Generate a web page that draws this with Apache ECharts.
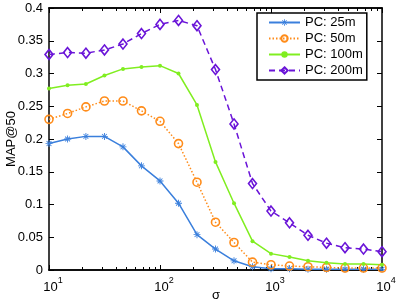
<!DOCTYPE html>
<html><head><meta charset="utf-8">
<script src="https://cdn.jsdelivr.net/npm/echarts@6/dist/echarts.min.js"></script>
<style>html,body{margin:0;padding:0;background:#fff}#c{width:398px;height:302px}</style>
</head><body><div id="c"></div>
<script>
var sigma = [10, 14.7, 21.5, 31.6, 46.4, 68.1, 100, 146.8, 215.4, 316.2, 464.2, 681.3, 1000, 1468, 2154, 3162, 4642, 6813, 10000];
var pc25  = [0.193, 0.200, 0.204, 0.204, 0.188, 0.159, 0.136, 0.102, 0.054, 0.032, 0.014, 0.005, 0.002, 0.002, 0.001, 0.001, 0.001, 0.001, 0.001];
var pc50  = [0.230, 0.239, 0.249, 0.258, 0.258, 0.243, 0.227, 0.193, 0.134, 0.073, 0.042, 0.012, 0.008, 0.006, 0.005, 0.004, 0.003, 0.003, 0.003];
var pc100 = [0.277, 0.282, 0.284, 0.297, 0.307, 0.310, 0.312, 0.300, 0.252, 0.165, 0.102, 0.044, 0.025, 0.020, 0.014, 0.011, 0.009, 0.009, 0.008];
var pc200 = [0.329, 0.332, 0.331, 0.336, 0.345, 0.361, 0.375, 0.381, 0.373, 0.306, 0.223, 0.132, 0.090, 0.072, 0.053, 0.041, 0.034, 0.032, 0.028];
var seriesNames = ['PC: 25m', 'PC: 50m', 'PC: 100m', 'PC: 200m'];
var xMajor = [10, 100, 1000, 10000];
var xMinor = [20,30,40,50,60,70,80,90,200,300,400,500,600,700,800,900,2000,3000,4000,5000,6000,7000,8000,9000];
var xTitle = 'σ';
var yTitle = 'MAP@50';

var FONT = 'Liberation Sans';
var C = {blue:'#3a7fdc', orange:'#ff8c1a', green:'#80ee20', purple:'#6a14d8'};
var star = 'path://M-0.13,-1L0.13,-1L0.13,1L-0.13,1Z M-1,-0.13L1,-0.13L1,0.13L-1,0.13Z M0.6,0.78L0.78,0.6L-0.6,-0.78L-0.78,-0.6Z M-0.6,0.78L-0.78,0.6L0.6,-0.78L0.78,-0.6Z';

function pairs(v){ return sigma.map(function(s,i){return [s, v[i]];}); }

function xAxisBase(pos, showLabel, ticks, len){
  var a = {
    type:'log', logBase:10, min:10, max:10000, position:pos, gridIndex:0,
    axisLine:{show:true, onZero:false, lineStyle:{color:'#000', width:1.5}},
    axisTick:{show:true, inside:true, length:len, customValues:ticks, lineStyle:{color:'#000', width:1}},
    splitLine:{show:false},
    axisLabel:{show:false}
  };
  if (showLabel){
    a.axisLabel = {show:true, customValues: xMajor, margin:6, color:'#000', padding:[0,0,0,8],
      formatter:function(v){ return '{b|10}{s|' + Math.round(Math.log10(v)) + '}'; },
      rich:{ b:{fontSize:13, fontFamily:FONT, color:'#000', verticalAlign:'bottom', lineHeight:18},
             s:{fontSize:9, fontFamily:FONT, color:'#000', verticalAlign:'top', lineHeight:18} } };
  }
  return a;
}
function yAxisBase(pos, showLabel){
  return {
    type:'value', min:0, max:0.4, interval:0.05, position:pos,
    axisLine:{show:true, onZero:false, lineStyle:{color:'#000', width:1.5}},
    axisTick:{show:true, inside:true, length:5, lineStyle:{color:'#000', width:1}},
    splitLine:{show:false},
    axisLabel:{show:showLabel, margin:6, fontSize:13, fontFamily:FONT, color:'#000'}
  };
}

var chart = echarts.init(document.getElementById('c'), null, {renderer:'canvas'});
chart.setOption({
  animation:false,
  backgroundColor:'#fff',
  grid:{left:49, right:16, top:8, bottom:32, containLabel:false, outerBoundsMode:'none'},
  xAxis:[ xAxisBase('bottom', true, xMajor, 5),
          xAxisBase('bottom', false, xMinor, 3),
          xAxisBase('top', false, xMajor, 5),
          xAxisBase('top', false, xMinor, 3) ],
  yAxis:[ yAxisBase('left', true), yAxisBase('right', false) ],
  graphic:[
    {type:'text', x:216, y:295, style:{text:xTitle, font:'13px "Liberation Sans"', fill:'#000', align:'center', verticalAlign:'middle'}},
    {type:'text', x:11, y:139, rotation:Math.PI/2, style:{text:yTitle, font:'13px "Liberation Sans"', fill:'#000', align:'center', verticalAlign:'middle'}}
  ],
  legend:{
    orient:'vertical', left:257, top:13, itemWidth:31, itemHeight:8, itemGap:3,
    padding:[3,4,3,11], borderColor:'#000', borderWidth:1.5, backgroundColor:'#fff',
    textStyle:{fontSize:13, fontFamily:FONT, color:'#000'},
    data:seriesNames
  },
  series:[
    {name:seriesNames[0], type:'line', data:pairs(pc25), symbol:star, symbolSize:7,
     lineStyle:{color:C.blue, width:1.5}, itemStyle:{color:C.blue, borderWidth:0}},
    {name:seriesNames[1], type:'line', data:pairs(pc50), symbol:'circle', symbolSize:8,
     lineStyle:{color:C.orange, width:1.5, type:[1.5,2]},
     itemStyle:{color:'rgba(255,255,255,0)', borderColor:C.orange, borderWidth:1.6}},
    {name:seriesNames[2], type:'line', data:pairs(pc100), symbol:'circle', symbolSize:4,
     lineStyle:{color:C.green, width:1.5}, itemStyle:{color:C.green, borderWidth:0}},
    {name:seriesNames[3], type:'line', data:pairs(pc200), symbol:'diamond', symbolSize:[8,10],
     lineStyle:{color:C.purple, width:1.5, type:[6,4]},
     itemStyle:{color:'rgba(255,255,255,0)', borderColor:C.purple, borderWidth:1.6}}
  ]
});
</script></body></html>
